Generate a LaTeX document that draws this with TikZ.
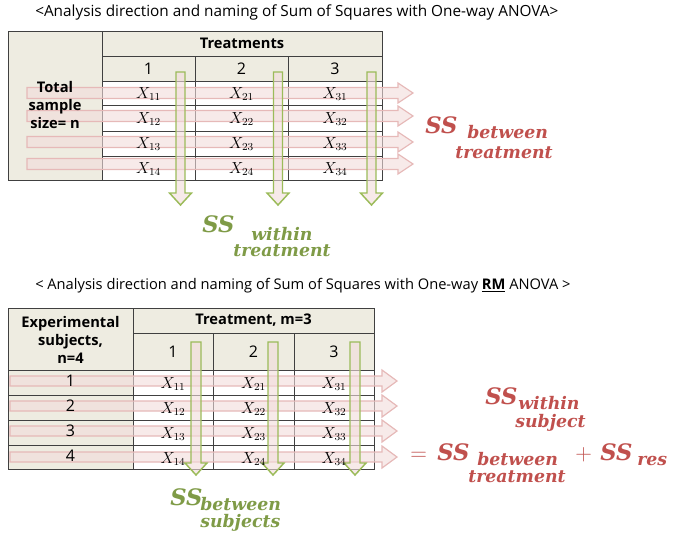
\documentclass[tikz,border=0pt]{standalone}
\usepackage{fontspec}
\setmainfont{Open Sans}
\newfontfamily\ssfont{DejaVu Serif}
\usepackage{tikz}
\usetikzlibrary{positioning}
\definecolor{beige}{HTML}{EEECE1}
\definecolor{grid}{HTML}{404040}
\definecolor{rosa}{HTML}{F2DCDB}
\definecolor{rosaline}{HTML}{E6B9B8}
\definecolor{verde}{HTML}{9BBB59}
\definecolor{ssred}{HTML}{C0504D}
\definecolor{ssgreen}{HTML}{7F9B47}
\tikzset{linea/.style={draw=grid, line width=0.75pt}}
\tikzset{rowarrow/.style={draw=rosaline, fill=rosa, fill opacity=0.6, line width=0.9pt}}
\tikzset{colarrow/.style={draw=verde, fill=rosa, fill opacity=0.6, line width=1.1pt}}
\tikzset{title/.style={font=\fontsize{11.5}{13}\selectfont, inner sep=0pt, anchor=west}}
\tikzset{boldtxt/.style={font=\fontsize{11}{13.5}\selectfont\bfseries, inner sep=0pt, align=center}}
\tikzset{numtxt/.style={font=\fontsize{12}{14}\selectfont, inner sep=0pt}}
\tikzset{datatxt/.style={font=\fontsize{12}{14}\selectfont, inner sep=0pt}}
\tikzset{bigss/.style={font=\fontsize{17}{20}\selectfont\ssfont\bfseries\itshape, inner sep=0pt, anchor=base west}}
\tikzset{subss/.style={font=\fontsize{13}{16}\selectfont\ssfont\bfseries\itshape, inner sep=0pt, anchor=base west}}

\begin{document}
\begin{tikzpicture}[x=0.75pt, y=-0.75pt]
\useasboundingbox (0,0) rectangle (674,533);

% titles
\node[title] (ti1) at (35,12) {<Analysis direction and naming of Sum of Squares with One-way ANOVA>};
\node[title, font=\fontsize{11}{13}\selectfont] (ti2) at (35,286) {< Analysis direction and naming of Sum of Squares with One-way \textbf{\underline{RM}} ANOVA >};

% first table
\fill[beige] (8,31) rectangle (102,180);
\fill[beige] (102,31) rectangle (382,81);
\draw[linea] (8,31) rectangle (382,180);
\draw[linea] (102,31) -- (102,180);
\draw[linea] (102,56) -- (382,56);
\foreach \y in {81,105,131,156} \draw[linea] (102,\y) -- (382,\y);
\foreach \x in {195,288} \draw[linea] (\x,56) -- (\x,180);

% arrows of the first table
\foreach \yc in {93,116,142,164}
  \draw[rowarrow] (27,\yc) ++(0,-5.5) -- ++(371,0) -- ++(0,-4.5) -- ++(15,10) -- ++(-15,10) -- ++(0,-4.5) -- ++(-371,0) -- cycle;
\foreach \xc in {180.5,278,371.5}
  \draw[colarrow] (\xc,72) ++(-4.5,0) -- ++(9,0) -- ++(0,121) -- ++(6.5,0) -- ++(-11,12) -- ++(-11,-12) -- ++(6.5,0) -- cycle;

\node[boldtxt] (tr) at (242,43.5) {Treatments};
\node[boldtxt] (tot) at (55,105) {Total\\sample\\size= n};
\foreach \i/\x in {1/148.5,2/241.5,3/335} {
  \node[numtxt] (c\i) at (\x,68.5) {\i};
  \foreach \j/\y in {1/94,2/119,3/144,4/169}
    \node[datatxt] (x\i\j) at (\x,\y) {$X_{\i\j}$};
}

\node[bigss, text=ssred] (ss1) at (425,133) {SS};
\node[subss, text=ssred] (bt1) at (467,138) {between};
\node[subss, text=ssred] (tm1) at (455,158) {treatment};

\node[bigss, text=ssgreen] (ss2) at (202,232) {SS};
\node[subss, text=ssgreen] (wi2) at (251,240) {within};
\node[subss, text=ssgreen] (tm2) at (233,256) {treatment};

% second table
\fill[beige] (8,308) rectangle (133,469);
\fill[beige] (133,308) rectangle (374,370);
\draw[linea] (8,308) rectangle (374,469);
\draw[linea] (133,308) -- (133,469);
\draw[linea] (133,333) -- (374,333);
\foreach \y in {370,395,420,445} \draw[linea] (8,\y) -- (374,\y);
\foreach \x in {213,294} \draw[linea] (\x,333) -- (\x,469);

% arrows of the second table
\foreach \yc in {381,406,431,457}
  \draw[rowarrow] (10,\yc) ++(0,-5) -- ++(372,0) -- ++(0,-6) -- ++(15,11) -- ++(-15,11) -- ++(0,-6) -- ++(-372,0) -- cycle;
\foreach \xc in {196,273,355}
  \draw[colarrow] (\xc,342) ++(-5,0) -- ++(10,0) -- ++(0,121) -- ++(6,0) -- ++(-11,12) -- ++(-11,-12) -- ++(6,0) -- cycle;

\node[boldtxt] (trm) at (253.5,320.5) {Treatment, m=3};
\node[boldtxt] (exs) at (70.5,340) {Experimental\\subjects,\\n=4};
\foreach \j/\y in {1/381,2/406,3/431,4/456}
  \node[numtxt] (s\j) at (70.5,\y) {\j};
\foreach \i/\x in {1/173,2/253.5,3/334} {
  \node[numtxt] (d\i) at (\x,352) {\i};
  \foreach \j/\y in {1/384,2/409,3/434,4/459}
    \node[datatxt] (y\i\j) at (\x,\y) {$X_{\i\j}$};
}

\node[bigss, text=ssgreen] (ss3) at (170,505) {SS};
\node[subss, text=ssgreen] (bt3) at (200,510) {between};
\node[subss, text=ssgreen] (sb3) at (200,527) {subjects};

\node[bigss, text=ssred] (ss4) at (485,404) {SS};
\node[subss, text=ssred] (wi4) at (518,409) {within};
\node[subss, text=ssred] (sb4) at (515,427) {subject};
\node[bigss, text=ssred] (eq4) at (410,460) {$=$};
\node[bigss, text=ssred] (ss5) at (437,460) {SS};
\node[subss, text=ssred] (bt5) at (477,465) {between};
\node[subss, text=ssred] (tm5) at (468,482) {treatment};
\node[bigss, text=ssred] (pl5) at (575,460) {$+$};
\node[bigss, text=ssred] (ss6) at (600,460) {SS};
\node[subss, text=ssred] (rs6) at (637,465) {res};
\end{tikzpicture}
\end{document}
